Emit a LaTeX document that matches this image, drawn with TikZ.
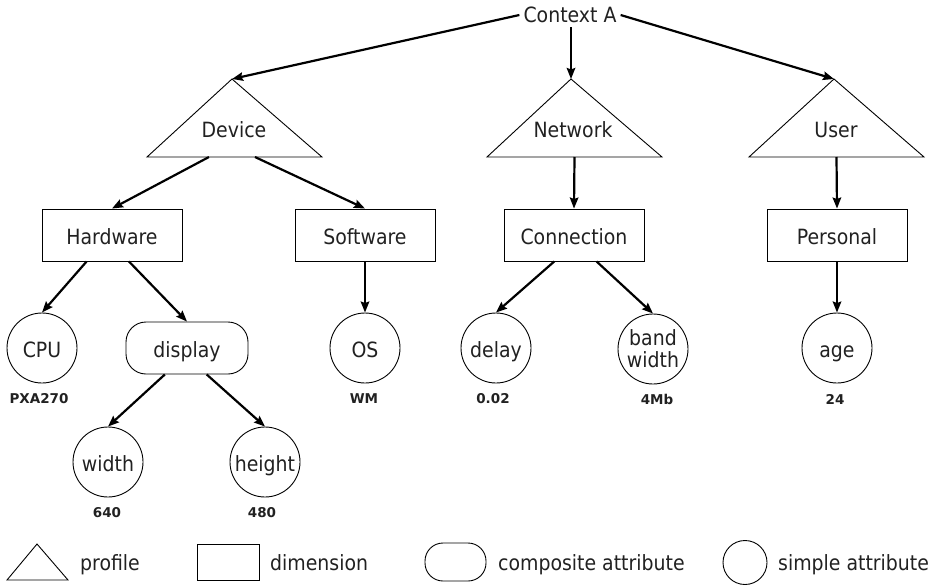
\documentclass[tikz,border=0pt]{standalone}
\usepackage{fontspec}
\setmainfont{DejaVu Sans Condensed}
\newfontfamily\valfont{DejaVu Sans}
\usetikzlibrary{arrows.meta,calc}

\begin{document}
\begin{tikzpicture}[x=1pt,y=-1pt,
  lbl/.style={font=\fontsize{21}{22}\selectfont,text=black!87,inner sep=3pt},
  fixtxt/.style={text height=20pt,text depth=2pt},
  val/.style={font=\valfont\bfseries\fontsize{13.5}{15}\selectfont,text=black!87,inner sep=0pt},
  outl/.style={draw=black,line width=0.9pt},
  conn/.style={line width=2.2pt,-{Stealth[length=11pt,width=8.5pt,inset=1.5pt]}},
  dimbox/.style={outl,lbl,fixtxt,rectangle,minimum width=140pt,minimum height=52pt,inner sep=0pt},
  attr/.style={outl,lbl,circle,minimum size=70pt,inner sep=0pt},
  comp/.style={outl,lbl,fixtxt,rectangle,rounded corners=20pt,minimum width=122pt,minimum height=52pt,inner sep=0pt}
]
\useasboundingbox (0,0) rectangle (937,586);

% root
\node[lbl,inner sep=4pt] (ctx) at (570,15) {Context A};

% profiles (triangles)
\coordinate (devA) at (232,79);
\coordinate (devL) at (147,157);
\coordinate (devR) at (322,157);
\draw[outl,line join=miter] (devL) -- (devA) -- (devR) -- cycle;
\node[lbl] (dev) at (234,130) {Device};

\coordinate (netA) at (571,79);
\coordinate (netL) at (487,157);
\coordinate (netR) at (662,157);
\draw[outl,line join=miter] (netL) -- (netA) -- (netR) -- cycle;
\node[lbl] (net) at (573,130) {Network};

\coordinate (usrA) at (834,79);
\coordinate (usrL) at (749,157);
\coordinate (usrR) at (924,157);
\draw[outl,line join=miter] (usrL) -- (usrA) -- (usrR) -- cycle;
\node[lbl] (usr) at (836,130) {User};

% dimensions
\node[dimbox] (hw)  at (112,235) {Hardware};
\node[dimbox] (sw)  at (365,235) {Software};
\node[dimbox] (con) at (574,235) {Connection};
\node[dimbox] (per) at (837,235) {Personal};

% attributes
\node[attr,fixtxt] (cpu)   at (42,348)  {CPU};
\node[comp] (disp)  at (187,348) {display};
\node[attr,fixtxt] (os)    at (365,348) {OS};
\node[attr,fixtxt] (delay) at (496,348) {delay};
\node[attr,align=center] (bw) at (653,349) {band\\width};
\node[attr,fixtxt] (age)   at (837,348) {age};
\node[attr,fixtxt] (wid)   at (108,462) {width};
\node[attr,fixtxt] (hei)   at (265,462) {height};

% values
\node[val] (vcpu) at (39,399)  {PXA270};
\node[val] (vos)  at (364,399) {WM};
\node[val] (vdel) at (493,399) {0.02};
\node[val] (vbw)  at (657,399) {4Mb};
\node[val] (vage) at (835,399) {24};
\node[val] (vwid) at (107,513) {640};
\node[val] (vhei) at (262,513) {480};

% connectors
\draw[conn] (ctx.west) -- (devA);
\draw[conn] (ctx.south -| netA) -- (netA);
\draw[conn] (ctx.east) -- (usrA);

\draw[conn] ($(devL)!0.354!(devR)$) -- (hw.north);
\draw[conn] ($(devL)!0.617!(devR)$) -- (sw.north);
\draw[conn] ($(netL)!0.5!(netR)$) -- (con.north);
\draw[conn] ($(usrL)!0.5!(usrR)$) -- (per.north);

\draw[conn] ($(hw.south west)!0.32!(hw.south east)$) -- (cpu.north);
\draw[conn] ($(hw.south west)!0.62!(hw.south east)$) -- (disp.north);
\draw[conn] (sw.south) -- (os.north);
\draw[conn] ($(con.south west)!0.36!(con.south east)$) -- (delay.north);
\draw[conn] ($(con.south west)!0.66!(con.south east)$) -- (bw.north);
\draw[conn] (per.south) -- (age.north);

\draw[conn] ($(disp.south west)!0.32!(disp.south east)$) -- (wid.north);
\draw[conn] ($(disp.south west)!0.66!(disp.south east)$) -- (hei.north);

% legend
\coordinate (lgA) at (37,544);
\coordinate (lgL) at (7,580);
\coordinate (lgR) at (68,580);
\draw[outl,line join=miter] (lgL) -- (lgA) -- (lgR) -- cycle;
\node[lbl,anchor=base west,inner sep=0pt] (lgprof) at (80,570) {profile};

\draw[outl] (197,544) rectangle (259,580);
\node[lbl,anchor=base west,inner sep=0pt] (lgdim) at (270,570) {dimension};

\draw[outl,rounded corners=18pt] (425,543) rectangle (486,581);
\node[lbl,anchor=base west,inner sep=0pt] (lgcomp) at (498,570) {composite attribute};

\draw[outl] (745,562.5) circle (22);
\node[lbl,anchor=base west,inner sep=0pt] (lgsimp) at (778,570) {simple attribute};
\end{tikzpicture}
\end{document}
